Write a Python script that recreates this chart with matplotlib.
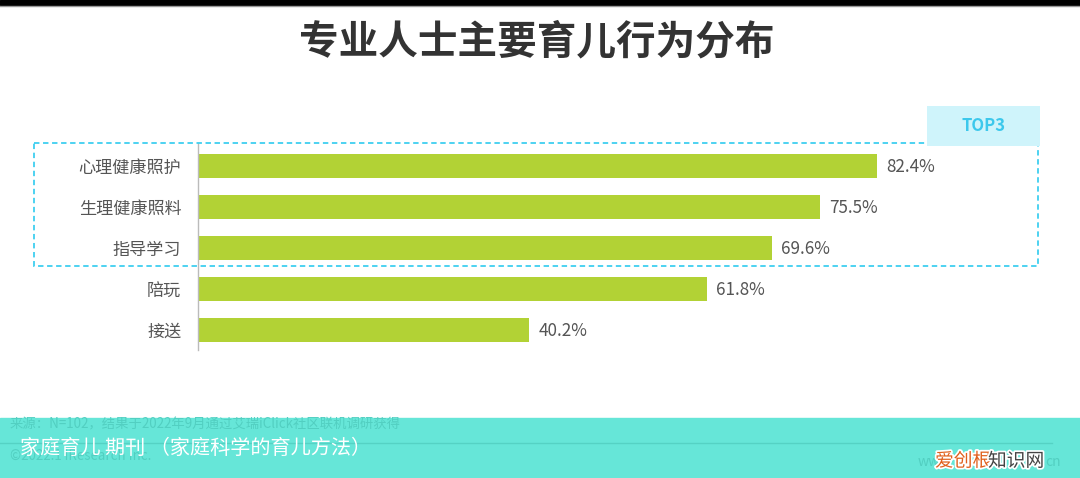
import matplotlib.pyplot as plt
from matplotlib.patches import Rectangle
import matplotlib.patheffects as pe

plt.rcParams['font.family'] = ['Noto Sans CJK SC', 'DejaVu Sans']

# data
categories = ["心理健康照护", "生理健康照料", "指导学习", "陪玩", "接送"]
values = [82.4, 75.5, 69.6, 61.8, 40.2]
value_labels = ["82.4%", "75.5%", "69.6%", "61.8%", "40.2%"]
title = "专业人士主要育儿行为分布"
source_note = "来源：N=102，结果于2022年9月通过艾瑞iClick社区联机调研获得"
copyright_note = "©2022.1 iResearch Inc."
caption = "家庭育儿 期刊 （家庭科学的育儿方法）"

W, H = 1080, 478
fig = plt.figure(figsize=(W / 100, H / 100), dpi=100)
fig.patch.set_facecolor("white")

def fx(px):
    return px / W

def fy(py):
    return 1 - py / H

# main bar axes
ax = fig.add_axes([fx(198), fy(350), fx(1022) - fx(198), fy(143) - fy(350)])
pos = list(range(len(categories)))
ax.barh(pos, values, height=0.59, color="#b2d235")
ax.set_xlim(0, 100)
ax.set_ylim(4.49, -0.56)
ax.set_yticks(pos)
ax.set_yticklabels(categories, fontsize=12.3, color="#555555")
ax.tick_params(axis="y", length=0, pad=12)
ax.set_xticks([])
for s in ["top", "right", "bottom"]:
    ax.spines[s].set_visible(False)
ax.spines["left"].set_color("#bbbbbb")
ax.spines["left"].set_linewidth(1)
for p, v, lab in zip(pos, values, value_labels):
    ax.text(v + 1.1, p + 0.02, lab, va="center", ha="left", fontsize=12.3, color="#555555")

# overlay axes in pixel coords
ov = fig.add_axes([0, 0, 1, 1])
ov.set_xlim(0, W)
ov.set_ylim(H, 0)
ov.axis("off")
ov.patch.set_alpha(0)

# top black strip
ov.add_patch(Rectangle((0, 0), W, 5, color="black"))
ov.plot([0, W], [5.5, 5.5], color="#999999", lw=1)

ov.text(W / 2 - 3, 42, title, ha="center", va="center", fontsize=28.5,
        fontweight="bold", color="#333333")

# TOP3 dashed box
ov.add_patch(Rectangle((34, 143), 1038 - 34, 266 - 143, fill=False,
                       edgecolor="#3fcff0", lw=1.3, linestyle=(0, (3, 2))))
ov.add_patch(Rectangle((927, 106), 113, 40, facecolor="#cff4fb", edgecolor="none"))
ov.text(983, 126, "TOP3", ha="center", va="center", fontsize=12,
        fontweight="bold", color="#3cc8ec")

# bottom band
ov.add_patch(Rectangle((0, 418), W, 60, color="#66e6d8"))
ov.text(10, 424, source_note, ha="left", va="center", fontsize=9.6, color="#52cfc1")
ov.plot([0, 1052], [443, 443], color="#55d2c4", lw=1)
ov.text(10, 456, copyright_note, ha="left", va="center", fontsize=9.6, color="#52cfc1")
ov.text(20, 448, caption, ha="left", va="center", fontsize=14.5, color="white")

# watermark
ov.text(918, 462, "ww", ha="left", va="center", fontsize=10, color="#52cfc1")
outline = [pe.withStroke(linewidth=2.5, foreground="white")]
ov.text(935, 461, "爱创根", ha="left", va="center", fontsize=13.5,
        color="#e0601c", path_effects=outline)
ov.text(988, 461, "知识网", ha="left", va="center", fontsize=13.5,
        color="#444444", path_effects=outline)
ov.text(1045, 462, "cn", ha="left", va="center", fontsize=10, color="#52cfc1")

fig.savefig("out.png", dpi=100)
